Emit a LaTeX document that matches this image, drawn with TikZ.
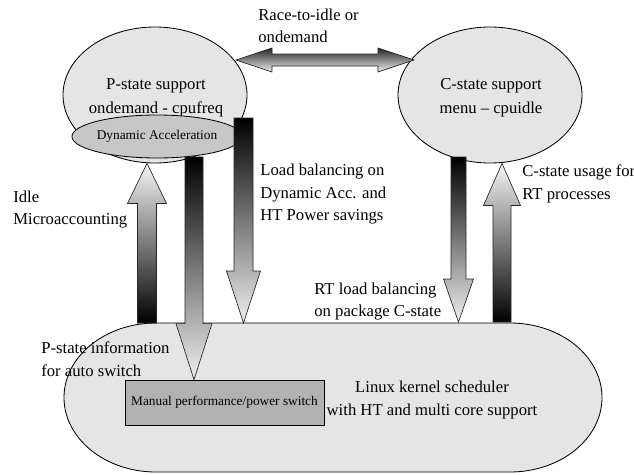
\documentclass[tikz,border=0pt]{standalone}
\usepackage{fontspec}
\setmainfont{Liberation Serif}
\usetikzlibrary{shapes.geometric,calc}
\tikzset{
  pmblock/.style  ={ellipse,draw=black,line width=0.5pt,fill=black!10,inner sep=0pt,
                    minimum width=110.4pt,minimum height=81.6pt},
  accel/.style    ={ellipse,draw=black,line width=0.5pt,fill=black!22,inner sep=0pt,
                    minimum width=74.4pt,minimum height=25.8pt,font=\fontsize{8}{9}\selectfont},
  switchbox/.style={rectangle,draw=black,line width=0.5pt,fill=black!30,inner sep=0pt,
                    minimum width=119.4pt,minimum height=27pt,font=\fontsize{8}{9}\selectfont},
  blocktext/.style={align=center,inner sep=0pt,font=\fontsize{10}{14.5}\selectfont},
  sidenote/.style ={align=left,anchor=west,inner sep=0pt,font=\fontsize{10}{13.5}\selectfont},
  sched/.style    ={draw=black,line width=0.5pt,fill=black!10},
  downflow/.style ={draw=black!85,line width=0.4pt,top color=black,bottom color=black!6},
  upflow/.style   ={draw=black!85,line width=0.4pt,top color=black!4,bottom color=black},
  sideflow/.style ={draw=black!85,line width=0.4pt,top color=black!85,bottom color=black!6},
}
% fat vertical arrow: style, tail, tip, shaft half width, head half width, head length
\newcommand{\vblockarrow}[6]{%
  \path[#1] let \p1=(#2), \p2=(#3), \n1={ifthenelse(\y2>\y1,1,-1)} in
    ({\x1-#4},\y1) -- ({\x1-#4},{\y2-\n1*#6}) -- ({\x1-#5},{\y2-\n1*#6}) -- (\x1,\y2)
    -- ({\x1+#5},{\y2-\n1*#6}) -- ({\x1+#4},{\y2-\n1*#6}) -- ({\x1+#4},\y1) -- cycle;}

\begin{document}
\begin{tikzpicture}[x=0.6pt,y=-0.6pt]
  \useasboundingbox (0,0) rectangle (634,474);

  % power management blocks
  \node[pmblock] (pstate) at (155,95) {};
  \node[blocktext] (pstext) at (156,97.5) {P-state support\\ondemand - cpufreq};
  \node[pmblock] (cstate) at (490,95) {};
  \node[blocktext] (cstext) at (491,97.5) {C-state support\\menu -- cpuidle};
  \node[accel] (dynacc) at (157,136.5) {Dynamic Acceleration};

  % scheduler
  \draw[sched] (156,323) -- (510,323) arc[start angle=90,end angle=-90,x radius=55.2pt,y radius=44.7pt]
    -- (156,472) arc[start angle=270,end angle=90,x radius=55.2pt,y radius=44.7pt] -- cycle;
  \node[switchbox] (manual) at (224.5,402.5) {Manual performance/power switch};
  \node[blocktext,font=\fontsize{10}{13.8}\selectfont] (schedtext) at (432,399.5)
    {Linux kernel scheduler\\with HT and multi core support};

  % arrow ends
  \coordinate (raceL) at (236,60);
  \coordinate (raceR) at (414,60);
  \coordinate (idleA) at (147,323);
  \coordinate (idleB) at (idleA |- pstate.south);
  \coordinate (dynA) at (194,157);
  \coordinate (dynB) at (dynA |- manual.north);
  \coordinate (loadA) at (243.5,118);
  \coordinate (loadB) at (243.5,323);
  \coordinate (rtA) at (458.5,157);
  \coordinate (rtB) at (458.5,322);
  \coordinate (cuseA) at (502,322);
  \coordinate (cuseB) at (cuseA |- cstate.south);

  \path[sideflow] let \p1=(raceL), \p2=(raceR) in
    (\x1,\y1) -- ({\x1+21.6pt},{\y1+7.2pt}) -- ({\x1+21.6pt},{\y1+3.6pt}) -- ({\x2-21.6pt},{\y1+3.6pt})
    -- ({\x2-21.6pt},{\y1+7.2pt}) -- (\x2,\y2) -- ({\x2-21.6pt},{\y1-7.2pt}) -- ({\x2-21.6pt},{\y1-3.6pt})
    -- ({\x1+21.6pt},{\y1-3.6pt}) -- ({\x1+21.6pt},{\y1-7.2pt}) -- cycle;
  \foreach \a/\b/\sty/\s/\h/\l in {idleA/idleB/upflow/5.7pt/11.7pt/24pt,
      dynA/dynB/downflow/5.4pt/10.8pt/33.6pt, loadA/loadB/downflow/5.7pt/10.2pt/31.2pt,
      rtA/rtB/downflow/4.5pt/9pt/25.8pt, cuseA/cuseB/upflow/5.4pt/11.1pt/25.2pt}
    {\vblockarrow{\sty}{\a}{\b}{\s}{\h}{\l}}

  % labels
  \node[sidenote] (race) at (258,26) {Race-to-idle or\\ondemand};
  \node[sidenote] (idle) at (13,209.5) {Idle\\Microaccounting};
  \node[sidenote] (load) at (260,194.5) {Load balancing on\\Dynamic Acc. and\\HT Power savings};
  \node[sidenote] (cuse) at (522,184) {C-state usage for\\RT processes};
  \node[sidenote] (rtlb) at (314,301.5) {RT load balancing\\on package C-state};
  \node[sidenote] (pinfo) at (41,359) {P-state information\\for auto switch};
\end{tikzpicture}
\end{document}
